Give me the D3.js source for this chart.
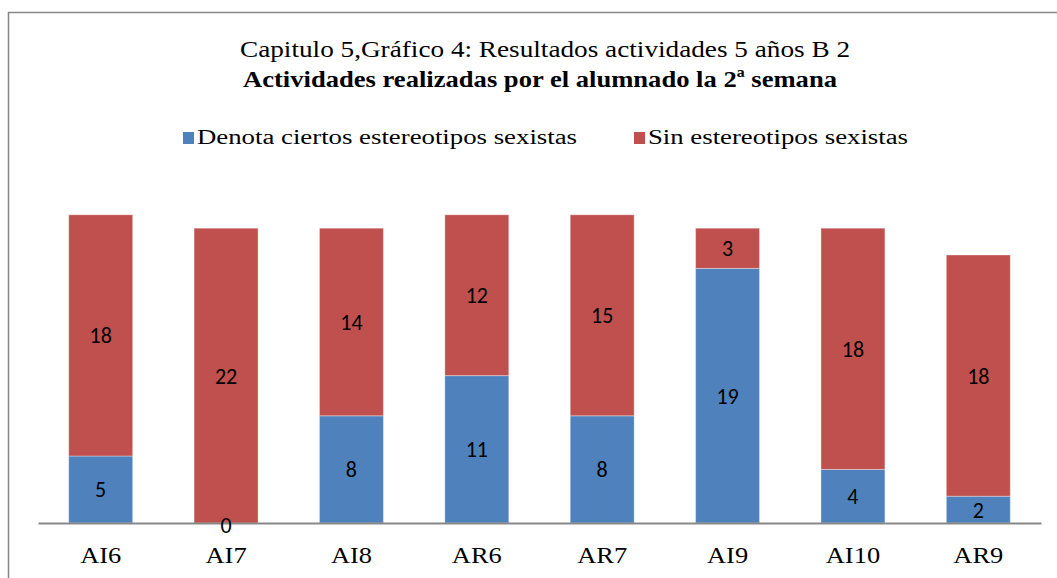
<!DOCTYPE html>
<html>
<head>
<meta charset="utf-8">
<script src="https://cdn.jsdelivr.net/npm/d3@7"></script>
<style>
  body { margin: 0; background: #fff; }
</style>
</head>
<body>
<div id="chart"></div>
<script>
const width = 1057;
const height = 578;

const categories = ["AI6", "AI7", "AI8", "AR6", "AR7", "AI9", "AI10", "AR9"];
const conEstereotipos = [5, 0, 8, 11, 8, 19, 4, 2];
const sinEstereotipos = [18, 22, 14, 12, 15, 3, 18, 18];
const seriesNames = ["Denota ciertos estereotipos sexistas", "Sin estereotipos sexistas"];
const colors = ["#4F81BD", "#C0504D"];

const titleLine1 = "Capitulo 5,Gráfico 4: Resultados actividades 5 años B 2";
const titleLine2 = "Actividades realizadas por el alumnado la 2ª semana";

const serif = "'Liberation Serif', 'Times New Roman', serif";
const stretch = 1.15; // the reference text looks a bit stretched sideways

const rows = categories.map((c, i) => ({cat: c, a: conEstereotipos[i], b: sinEstereotipos[i]}));
const stacked = d3.stack().keys(["a", "b"])(rows);

const svg = d3.select("#chart").append("svg")
    .attr("width", width).attr("height", height);

// outer frame
svg.append("rect")
    .attr("x", 8.5).attr("y", 12.5)
    .attr("width", 1100).attr("height", 700)
    .attr("fill", "none")
    .attr("stroke", "#878787")
    .attr("stroke-width", 1.5);

// scales
const x = d3.scaleBand().domain(categories).range([38, 1041]).paddingInner(0.49).paddingOuter(0.245);
const y = d3.scaleLinear().domain([0, 25]).range([523, 188]);

// titles
svg.append("text")
    .attr("x", 545).attr("y", 57)
    .attr("text-anchor", "middle")
    .attr("textLength", 610)
    .attr("lengthAdjust", "spacingAndGlyphs")
    .style("font-family", serif)
    .style("font-size", "24px")
    .text(titleLine1);

svg.append("text")
    .attr("x", 540).attr("y", 87)
    .attr("text-anchor", "middle")
    .attr("textLength", 594)
    .attr("lengthAdjust", "spacingAndGlyphs")
    .style("font-family", serif)
    .style("font-size", "24px")
    .style("font-weight", "bold")
    .text(titleLine2);

// legend
const legendX = [183, 634];
const legendLen = [380, 260];
const legend = svg.selectAll("g.legend")
    .data(seriesNames)
    .join("g")
    .attr("class", "legend")
    .attr("transform", (d, i) => `translate(${legendX[i]},0)`);
legend.append("rect")
    .attr("x", 0).attr("y", 132)
    .attr("width", 11).attr("height", 12)
    .attr("fill", (d, i) => colors[i]);
legend.append("text")
    .attr("x", 14).attr("y", 144)
    .attr("textLength", (d, i) => legendLen[i])
    .attr("lengthAdjust", "spacingAndGlyphs")
    .style("font-family", serif)
    .style("font-size", "20px")
    .text(d => d);

// bars
const layers = svg.selectAll("g.layer")
    .data(stacked)
    .join("g")
    .attr("class", "layer")
    .attr("fill", (d, i) => colors[i]);

layers.selectAll("rect")
    .data(d => d)
    .join("rect")
    .attr("x", d => x(d.data.cat))
    .attr("width", x.bandwidth())
    .attr("y", d => y(d[1]))
    .attr("height", d => y(d[0]) - y(d[1]))
    .attr("stroke", "#ffffff")
    .attr("stroke-opacity", 0.35)
    .attr("stroke-width", 1);

// axis
const xAxis = svg.append("g")
    .attr("transform", `translate(0,${y(0)})`)
    .call(d3.axisBottom(x).tickSize(0).tickPadding(0));
xAxis.select(".domain")
    .attr("stroke", "#888")
    .attr("stroke-width", 2);
xAxis.selectAll(".tick text")
    .attr("y", 0)
    .attr("dy", 0)
    .attr("transform", `translate(0,40) scale(${stretch},1)`)
    .style("font-family", serif)
    .style("font-size", "23px")
    .attr("fill", "#000");

// data labels, drawn above every bar
const labels = svg.append("g").attr("class", "labels");
labels.selectAll("g")
    .data(stacked)
    .join("g")
    .selectAll("text")
    .data(d => d)
    .join("text")
    .attr("x", d => x(d.data.cat) + x.bandwidth() / 2)
    .attr("y", d => (y(d[0]) + y(d[1])) / 2)
    .attr("dy", d => d[1] - d[0] === 0 ? "0.45em" : "0.36em")
    .attr("text-anchor", "middle")
    .attr("fill", "#000")
    .style("font-family", "Carlito, Calibri, Lato, sans-serif")
    .style("font-size", "22px")
    .text(d => d[1] - d[0]);
</script>
</body>
</html>
